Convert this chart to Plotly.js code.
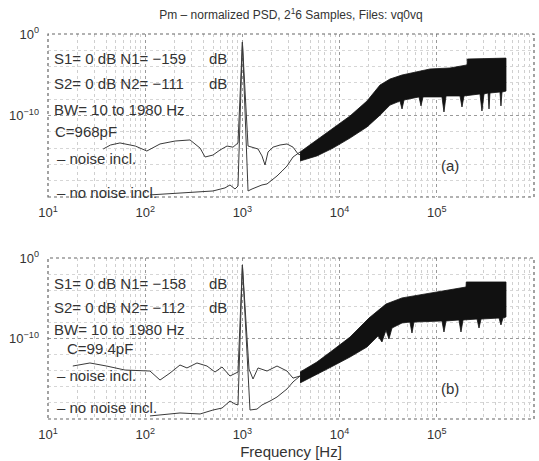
<!DOCTYPE html>
<html>
<head>
<meta charset="utf-8">
<script src="https://cdn.plot.ly/plotly-3.0.1.min.js"></script>
<style>html,body{margin:0;padding:0;background:#fff;}#chart{width:539px;height:461px;}</style>
</head>
<body>
<div id="chart"></div>
<script>
// ---------- data ----------
// panel (a): C = 968 pF
const noiseA_f = [37, 44, 55, 79, 104, 142, 203, 289, 367, 413, 498, 589, 695, 800, 901, 1000, 1143, 1286, 1447, 1590, 1709, 1834, 2064, 2438, 2877, 3317, 3734, 4200];
const noiseA_p = [7.8e-15, 2.4e-14, 4.3e-14, 1.8e-14, 4.4e-15, 3.2e-14, 7.4e-14, 1e-13, 1e-14, 8.1e-16, 1.4e-15, 5.9e-15, 1.8e-14, 1.3e-14, 4.3e-14, 1e-1, 1.8e-14, 1.3e-14, 7.8e-15, 1.1e-15, 8.5e-17, 3.3e-15, 1.3e-14, 2.4e-14, 3.2e-14, 1.3e-14, 1.9e-15, 1.1e-15];
const cleanA_f = [112, 228, 367, 498, 662, 745, 839, 901, 1000, 1143, 1256, 1413, 1590, 1792, 2018, 2271, 2555, 2877, 3317, 3918];
const cleanA_p = [1.8e-20, 3.1e-20, 4.1e-20, 5.5e-20, 1.3e-19, 3.0e-19, 9.6e-20, 2.2e-19, 1e-1, 5.5e-20, 9.6e-20, 1.7e-19, 3.0e-19, 4.0e-19, 1.2e-18, 3.8e-18, 1.5e-17, 6.3e-17, 8.1e-16, 3.3e-15];
const bandA_hi_f = [3918, 5848, 8550, 12790, 19130, 26060, 33020, 43880, 85140, 136700, 204700, 206000, 515000];
const bandA_hi_p = [3.3e-15, 1e-13, 2.2e-12, 8.7e-11, 6.0e-9, 5.5e-7, 3.0e-6, 9.3e-6, 5.1e-5, 6.8e-5, 1.6e-4, 8.5e-4, 1.1e-3];
const bandA_lo_f = [3918, 5848, 8550, 12790, 19130, 26060, 33020, 41800, 43880, 46000, 65600, 68800, 72100, 113000, 118500, 124400, 173300, 181600, 190500, 278100, 291500, 305900, 336700, 344500, 352500, 446700, 457200, 468500, 515000];
const bandA_lo_p = [2.6e-16, 1.1e-15, 1.0e-14, 1.7e-13, 3.9e-12, 1.1e-10, 1.9e-9, 6.0e-9, 6.3e-10, 8.0e-9, 1.9e-8, 1.5e-9, 1.9e-8, 1.9e-8, 2.7e-10, 2.5e-8, 2.5e-8, 1.1e-9, 2.5e-8, 4.4e-8, 3.6e-10, 4.4e-8, 5.8e-8, 6.3e-10, 5.8e-8, 7.6e-8, 1.5e-9, 7.6e-8, 1.0e-7];

// panel (b): C = 99.4 pF
const noiseB_f = [18, 27, 40, 62, 112, 142, 180, 228, 269, 341, 432, 523, 617, 745, 901, 1000, 1169, 1286, 1447, 1792, 2271, 2877, 3317, 3918];
const noiseB_p = [3.8e-14, 9.1e-14, 3.8e-14, 1.2e-14, 9.1e-15, 6.9e-16, 5.1e-15, 5.1e-14, 2.2e-14, 9.1e-14, 3.8e-14, 6.9e-15, 2.9e-14, 2.2e-15, 6.9e-15, 1.35e-1, 1.6e-14, 9.3e-16, 2.2e-14, 9.1e-15, 3.8e-14, 9.1e-15, 1.2e-15, 2.2e-15];
const cleanB_f = [112, 228, 367, 498, 617, 745, 839, 901, 1000, 1197, 1413, 1590, 1923, 2271, 2555, 2877, 3317, 3918];
const cleanB_p = [2.4e-20, 5.6e-20, 4.2e-20, 1.3e-19, 2.3e-19, 1.7e-18, 7.3e-19, 5.5e-19, 1.35e-1, 1.3e-19, 1.7e-19, 5.5e-19, 1.7e-18, 5.4e-18, 1.7e-17, 5.4e-17, 4.0e-16, 2.2e-15];
const bandB_hi_f = [3918, 5848, 8550, 12790, 20050, 29990, 43880, 98200, 199700, 201000, 515000];
const bandB_hi_p = [6.9e-15, 1.2e-13, 3.7e-12, 1.5e-10, 3.5e-8, 1.9e-6, 1.1e-5, 6.0e-5, 2.5e-4, 1.05e-3, 1.05e-3];
const bandB_lo_f = [3918, 5848, 8550, 12790, 19130, 24830, 27290, 29990, 32200, 34590, 43880, 52940, 55550, 58220, 113000, 118500, 124400, 169100, 177300, 186100, 259300, 271800, 285200, 436400, 457200, 479500, 515000];
const bandB_lo_p = [3.0e-16, 3.9e-15, 3.8e-14, 5.0e-13, 8.8e-12, 2.0e-10, 3.7e-11, 1.1e-9, 8.7e-11, 2.0e-9, 8.5e-9, 1.1e-8, 4.8e-10, 1.1e-8, 1.5e-8, 6.4e-10, 1.5e-8, 2.0e-8, 6.4e-10, 2.0e-8, 2.6e-8, 2.0e-9, 2.6e-8, 3.5e-8, 4.8e-9, 3.5e-8, 4.7e-8];

// tick labels
const xTickVals = [1e1, 1e2, 1e3, 1e4, 1e5];
const xTickText = ['10<sup>1</sup>', '10<sup>2</sup>', '10<sup>3</sup>', '10<sup>4</sup>', '10<sup>5</sup>'];
const yTickVals = [1e0, 1e-10];
const yTickText = ['10<sup>0</sup>', '10<sup>−10</sup>'];

// text
const titleText = 'Pm – normalized PSD, 2<sup>1</sup>6 Samples, Files: vq0vq';
const xLabel = 'Frequency [Hz]';
const infoA = ['S1= 0 dB N1= −159', 'S2= 0 dB N2= −111', 'BW= 10 to 1980 Hz', 'C=968pF', '– noise incl.', '– no noise incl.', '(a)'];
const infoB = ['S1= 0 dB N1= −158', 'S2= 0 dB N2= −112', 'BW= 10 to 1980 Hz', 'C=99.4pF', '– noise incl.', '– no noise incl.', '(b)'];

// ---------- drawing ----------
const W = 539, H = 461;
const L = 48, R = 534, T = 34, B = 419;
const px2x = p => (p - L) / (R - L);
const py2y = p => (B - p) / (B - T);
const ink = '#333';
const FONT = '"Liberation Sans", Arial, sans-serif';

function lineTrace(f, p, xa, ya) {
  return {x: f, y: p, xaxis: xa, yaxis: ya, type: 'scatter', mode: 'lines',
          line: {color: '#3a3a3a', width: 1}, hoverinfo: 'skip', showlegend: false};
}
function bandTrace(hf, hp, lf, lp, xa, ya) {
  const x = hf.concat(lf.slice().reverse());
  const y = hp.concat(lp.slice().reverse());
  return {x: x, y: y, xaxis: xa, yaxis: ya, type: 'scatter', mode: 'lines', fill: 'toself',
          fillcolor: '#111', line: {color: '#111', width: 0.8}, hoverinfo: 'skip', showlegend: false};
}

const data = [
  lineTrace(noiseA_f, noiseA_p, 'x', 'y'),
  lineTrace(cleanA_f, cleanA_p, 'x', 'y'),
  bandTrace(bandA_hi_f, bandA_hi_p, bandA_lo_f, bandA_lo_p, 'x', 'y'),
  lineTrace(noiseB_f, noiseB_p, 'x2', 'y2'),
  lineTrace(cleanB_f, cleanB_p, 'x2', 'y2'),
  bandTrace(bandB_hi_f, bandB_hi_p, bandB_lo_f, bandB_lo_p, 'x2', 'y2')
];

function xAxis(anchor, showTitle) {
  const a = {type: 'log', range: [1, 6], anchor: anchor, domain: [0, 1],
    tickmode: 'array', tickvals: xTickVals, ticktext: xTickText, ticks: '',
    ticklabelstandoff: 6,
    showgrid: true, gridcolor: '#9a9a9a', griddash: 'dot', gridwidth: 1,
    minor: {showgrid: true, gridcolor: '#cfcfcf', griddash: 'dot', dtick: 'D1'},
    zeroline: false, showline: false,
    tickfont: {family: FONT, size: 13, color: ink}};
  if (showTitle) a.title = {text: xLabel, font: {family: FONT, size: 15, color: ink}, standoff: 5};
  return a;
}
function yAxis(anchor, dom) {
  return {type: 'log', range: [-20, 0], anchor: anchor, domain: dom,
    tickmode: 'array', tickvals: yTickVals, ticktext: yTickText, ticks: '',
    ticklabelstandoff: 8,
    showgrid: true, gridcolor: '#9a9a9a', griddash: 'dot', gridwidth: 1,
    minor: {showgrid: true, gridcolor: '#d6d6d6', griddash: 'dot', dtick: 2},
    zeroline: false, showline: false,
    tickfont: {family: FONT, size: 13, color: ink}};
}

const annotations = [];
function addInfo(info, rows) {
  info.forEach((t, i) => {
    const r = rows[i];
    annotations.push({text: t, xref: 'paper', yref: 'paper', x: px2x(r[0]), y: py2y(r[1]),
      xanchor: r[2] || 'left', yanchor: 'middle', showarrow: false,
      font: {family: FONT, size: 15, color: ink}});
  });
}
addInfo(infoA, [[52, 58], [52, 83], [52, 110], [53, 131], [55, 158], [55, 192], [450, 165, 'center']]);
addInfo(infoB, [[52, 283], [52, 307], [52, 329], [65, 348], [55, 375], [55, 407], [450, 388, 'center']]);
[[207, 58], [207, 83], [207, 283], [207, 307]].forEach(r => {
  annotations.push({text: 'dB', xref: 'paper', yref: 'paper', x: px2x(r[0]), y: py2y(r[1]),
    xanchor: 'left', yanchor: 'middle', showarrow: false, font: {family: FONT, size: 15, color: ink}});
});

const topDom = [py2y(197), 1];
const botDom = [0, py2y(258)];
const shapes = [
  {type: 'rect', xref: 'x domain', yref: 'y domain', x0: 0, x1: 1, y0: 0, y1: 1,
   line: {color: '#666', width: 1.2, dash: 'dot'}},
  {type: 'rect', xref: 'x2 domain', yref: 'y2 domain', x0: 0, x1: 1, y0: 0, y1: 1,
   line: {color: '#666', width: 1.2, dash: 'dot'}}
];

const layout = {
  width: W, height: H,
  margin: {l: L, r: W - R, t: T, b: H - B, pad: 0},
  paper_bgcolor: '#fff', plot_bgcolor: '#fff',
  font: {family: FONT, color: ink},
  title: {text: titleText, font: {family: FONT, size: 12, color: ink},
          x: px2x(291), xref: 'paper', xanchor: 'center', y: (H - 15) / H, yref: 'container', yanchor: 'middle'},
  xaxis: xAxis('y', false),
  yaxis: yAxis('x', topDom),
  xaxis2: xAxis('y2', true),
  yaxis2: yAxis('x2', botDom),
  annotations: annotations,
  shapes: shapes,
  showlegend: false
};

Plotly.newPlot('chart', data, layout, {staticPlot: true, displayModeBar: false});
</script>
</body>
</html>
